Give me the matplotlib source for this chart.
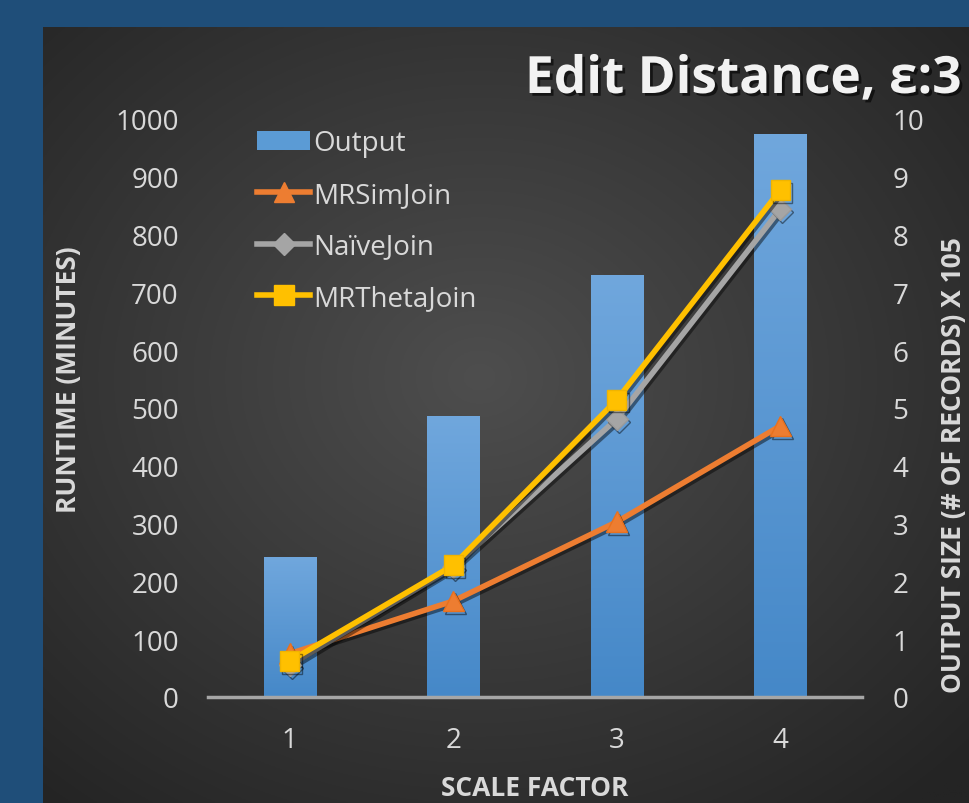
import numpy as np
import matplotlib
matplotlib.use("Agg")
import matplotlib.pyplot as plt
import matplotlib.patheffects as pe
from matplotlib.patches import Patch
from matplotlib.lines import Line2D

plt.rcParams['font.family'] = ['Open Sans', 'DejaVu Sans']

# ---- data ----
scale_factor = [1, 2, 3, 4]
output_size = [2.42, 4.86, 7.30, 9.74]          # records x 10^5
mrsimjoin = [75, 166, 303, 469]                 # minutes
naivejoin = [55, 225, 481, 844]
mrthetajoin = [62, 228, 514, 877]

title = "Edit Distance, \u03b5:3"

W, H = 970, 804
fig = plt.figure(figsize=(W / 100, H / 100), dpi=100)
fig.patch.set_facecolor('#1F4E79')

# dark panel with a soft radial highlight
bg = fig.add_axes([43 / W, 0, 1 - 43 / W, 1 - 28 / H])
bg.set_axis_off()
ny, nx = 400, 480
yy, xx = np.mgrid[0:ny, 0:nx]
cx, cy = 0.47 * nx, 0.45 * ny
r = np.sqrt(((xx - cx) / nx) ** 2 + ((yy - cy) / ny) ** 2)
r = np.clip(r / 0.72, 0, 1)
light = np.array([0x4e, 0x4e, 0x4e]) / 255
dark = np.array([0x24, 0x24, 0x24]) / 255
img = light[None, None, :] * (1 - r[..., None]) + dark[None, None, :] * r[..., None]
bg.imshow(img, aspect='auto', extent=[0, 1, 0, 1], origin='upper')
bg.set_xlim(0, 1)
bg.set_ylim(0, 1)

left, right = 208 / W, 862 / W
bottom, top = 1 - 698 / H, 1 - 120 / H
ax = fig.add_axes([left, bottom, right - left, top - bottom])
ax2 = ax.twinx()

txt_col = '#d9d9d9'
x = np.arange(len(scale_factor))

# bars (right axis) with a vertical blue gradient
bars = ax2.bar(x, output_size, width=0.32, color='#5B9BD5', zorder=1)
grad = np.linspace(0, 1, 256)[:, None]
top_c = np.array([0x70, 0xa7, 0xdd]) / 255
bot_c = np.array([0x45, 0x88, 0xc8]) / 255
gimg = top_c[None, None, :] * (1 - grad[..., None]) + bot_c[None, None, :] * grad[..., None]
for b in bars:
    bx, by = b.get_x(), b.get_y()
    bw, bh = b.get_width(), b.get_height()
    im = ax2.imshow(gimg, aspect='auto', extent=[bx, bx + bw, by, by + bh],
                    origin='upper', zorder=2)
    im.set_clip_path(b)
ax2.set_ylim(0, 10)
ax2.set_xlim(-0.5, 3.5)

# lines (left axis) drawn above the bars
ax.set_zorder(ax2.get_zorder() + 1)
ax.patch.set_visible(False)
shadow = [pe.SimpleLineShadow(offset=(1.5, -2), shadow_color='black', alpha=0.45), pe.Normal()]
lw = 4.0
l1, = ax.plot(x, mrsimjoin, color='#ED7D31', lw=lw, marker='^', ms=15,
              markeredgecolor='#E8711E', path_effects=shadow, zorder=3)
l2, = ax.plot(x, naivejoin, color='#A5A5A5', lw=lw, marker='D', ms=11,
              markeredgecolor='#9a9a9a', path_effects=shadow, zorder=4)
l3, = ax.plot(x, mrthetajoin, color='#FFC000', lw=lw, marker='s', ms=14,
              markeredgecolor='#F0B400', path_effects=shadow, zorder=5)
ax.set_ylim(0, 1000)
ax.set_xlim(-0.5, 3.5)

for a in (ax, ax2):
    for s in a.spines.values():
        s.set_visible(False)
    a.tick_params(length=0, colors=txt_col, labelsize=20)

ax.axhline(0, color='#a6a6a6', lw=2.5, zorder=6, clip_on=False)

ax.set_xticks(x)
ax.set_xticklabels([str(v) for v in scale_factor])
ax.tick_params(axis='x', pad=21)
ax.set_yticks(np.arange(0, 1001, 100))
ax.tick_params(axis='y', pad=21)
ax2.set_yticks(np.arange(0, 11, 1))
ax2.tick_params(axis='y', pad=22)

ax.set_xlabel('SCALE FACTOR', color=txt_col, fontsize=19, fontweight='bold')
ax.xaxis.set_label_coords(0.50, -0.133)
ax.set_ylabel('RUNTIME (MINUTES)', color=txt_col, fontsize=19, fontweight='bold')
ax.yaxis.set_label_coords(-0.193, 0.55)
ax2.set_ylabel('OUTPUT SIZE (# OF RECORDS) X 105', color=txt_col, fontsize=19,
               fontweight='bold', rotation=90)
ax2.yaxis.set_label_coords(1.119, 0.403)

handles = [Patch(facecolor='#5B9BD5'),
           Line2D([], [], color='#ED7D31', lw=lw, marker='^', ms=15),
           Line2D([], [], color='#A5A5A5', lw=lw, marker='D', ms=11),
           Line2D([], [], color='#FFC000', lw=lw, marker='s', ms=14)]
labels = ['Output', 'MRSimJoin', 'Na\u00efveJoin', 'MRThetaJoin']
leg = ax.legend(handles, labels, loc='upper left', bbox_to_anchor=(0.05, 1.011),
                frameon=False, fontsize=20, labelcolor=txt_col, handlelength=1.9,
                handleheight=0.7, handletextpad=0.1, labelspacing=0.85, borderaxespad=0.2)

fig.text(525 / W, 1 - 94 / H, title, color='#f2f2f2', fontsize=37, fontweight='bold',
         ha='left', va='baseline',
         path_effects=[pe.withSimplePatchShadow(offset=(2, -2), shadow_rgbFace='black', alpha=0.6)])

fig.savefig('out.png', dpi=100, facecolor=fig.get_facecolor())
